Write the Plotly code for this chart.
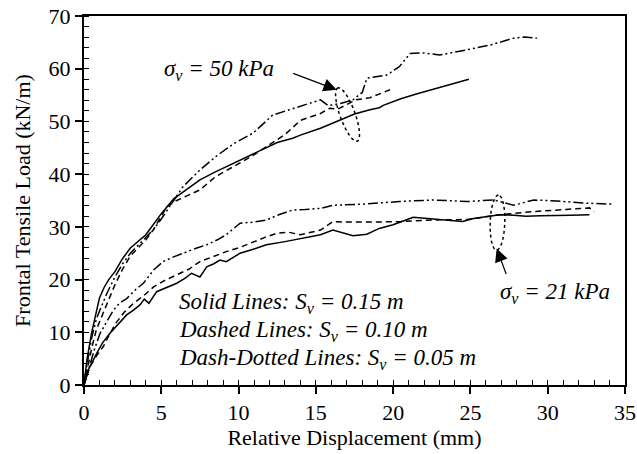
import numpy as np
import plotly.graph_objects as go

# ---- measured load-displacement curves -------------------------------------
# sigma_v = 50 kPa
x50_s15 = [0, 0.2, 0.5, 0.8, 1.0, 1.3, 1.6, 2.0, 2.5, 3.0, 3.5, 4.0, 4.5, 5.0, 5.8, 6.5, 7.5,
           8.4, 9.7, 10.5, 11.5, 12.5, 13.5, 14.0, 15.3, 16.6, 17.5, 18.5, 19.1, 19.4, 20.5,
           21.5, 22.5, 23.5, 24.2, 24.9]
y50_s15 = [0, 5, 10, 14, 16.5, 18.5, 20, 21.5, 24, 26, 27.3, 28.5, 30.5, 32.5, 35.3, 36.8, 38.9,
           40.3, 42.1, 43.3, 44.6, 46.0, 46.8, 47.4, 48.7, 50.3, 51.4, 52.2, 52.6, 53.1, 54.3,
           55.2, 56.0, 56.8, 57.3, 58.0]

x50_s10 = [0, 0.2, 0.5, 0.8, 1.0, 1.5, 2.0, 2.5, 3.0, 3.5, 4.0, 4.5, 5.35, 6.0, 7.5, 8.5, 9.7,
           10.8, 11.8, 13.0, 14.0, 15.3, 15.9, 16.4, 17.0, 17.6, 18.5, 19.8]
y50_s10 = [0, 3, 7, 10.5, 12, 15.5, 19, 22, 24.5, 26, 27.5, 29.5, 33.8, 35, 37, 39.5, 41.4,
           43.3, 45.2, 47.5, 50.2, 51.5, 52.5, 52.3, 53.2, 54.1, 54.5, 56.0]

x50_s05 = [0, 0.2, 0.5, 0.8, 1.0, 1.5, 2.0, 2.5, 3.0, 3.5, 4.0, 4.5, 5.0, 6.4, 7.5, 8.6, 9.7,
           10.95, 12.2, 13.5, 14.0, 15.3, 15.8, 16.6, 17.4, 18.0, 18.3, 19.6, 20.4, 21.1, 22.0,
           23.0, 24.8, 26.3, 27.8, 28.5, 29.3]
y50_s05 = [0, 4, 9, 12.5, 14, 17.5, 20.5, 23, 25, 26.5, 28, 29.5, 31.5, 37.6, 40.8, 43.5, 45.8,
           47.8, 51.2, 52.4, 52.8, 54.1, 53.0, 53.4, 54.1, 55.5, 58.2, 58.8, 60.4, 62.9, 63.0,
           62.6, 63.6, 64.5, 65.8, 66.0, 65.8]

# sigma_v = 21 kPa
x21_s15 = [0, 0.3, 0.82, 1.2, 1.68, 2.2, 2.76, 3.2, 3.62, 3.9, 4.2, 4.7, 5.3, 6.0, 6.5, 6.96,
           7.5, 7.94, 8.4, 8.8, 9.2, 10.1, 11.0, 11.8, 13.0, 14.0, 15.3, 16.1, 16.8, 17.4, 18.3,
           19.1, 20.0, 20.9, 21.3, 22.6, 23.5, 24.5, 25.2, 26.0, 26.9, 27.8, 28.6, 29.5, 30.4,
           31.5, 32.7]
y21_s15 = [0, 3, 6, 8, 9.8, 11.5, 13.3, 14.2, 15.2, 16.3, 15.5, 17.7, 18.5, 19.3, 20.2, 21.2,
           20.5, 22.4, 23.0, 23.7, 23.4, 25.0, 25.8, 26.6, 27.2, 27.8, 28.5, 29.4, 28.8, 28.3, 28.6,
           29.7, 30.4, 31.3, 31.8, 31.5, 31.3, 31.0, 31.6, 31.9, 32.3, 32.2, 32.0, 32.1, 32.1,
           32.2, 32.3]

x21_s10 = [0, 0.39, 0.8, 1.25, 1.6, 2.05, 2.6, 3.2, 3.8, 4.5, 5.2, 6.0, 6.8, 7.5, 8.3, 9.2,
           10.0, 10.95, 11.7, 12.5, 13.2, 14.0, 15.3, 16.1, 17.0, 18.5, 20.5, 22.6, 24.8, 26.9,
           29.1, 31.2, 32.7, 33.0]
y21_s10 = [0, 3.5, 5.5, 7.3, 9.3, 11.7, 13.8, 15.5, 16.8, 18.6, 19.8, 20.9, 22.0, 23.4, 24.3,
           25.3, 26.0, 27.2, 28.0, 28.8, 29.0, 28.5, 29.4, 31.0, 30.9, 30.9, 31.0, 31.3, 31.4,
           32.3, 32.9, 33.3, 33.6, 32.9]

x21_s05 = [0, 0.4, 0.7, 1.04, 1.5, 1.9, 2.3, 2.76, 3.3, 3.84, 4.5, 5.1, 5.8, 6.64, 7.3, 7.94,
           8.6, 9.2, 10.1, 11.0, 11.8, 12.6, 13.5, 14.3, 15.3, 16.1, 18.0, 20.4, 22.6, 24.8,
           26.5, 27.8, 29.1, 30.6, 32.5, 34.3]
y21_s05 = [0, 4, 7, 9.8, 12.3, 14.2, 15.5, 16.4, 18.0, 19.3, 21.8, 23.4, 24.3, 25.3, 26.0, 26.6,
           27.5, 28.5, 30.7, 30.9, 31.3, 32.3, 33.2, 33.3, 33.5, 34.1, 34.3, 34.8, 35.1, 34.8,
           35.1, 34.1, 35.1, 34.9, 34.5, 34.3]

x_ticks = [0, 5, 10, 15, 20, 25, 30, 35]
y_ticks = [0, 10, 20, 30, 40, 50, 60, 70]

FONT = "Liberation Serif"
SOLID = "solid"
DASHED = "6px,4px"
DASHDOT = "10px,3px,2px,3px,2px,3px"

fig = go.Figure()
series = [
    (x50_s15, y50_s15, SOLID), (x50_s10, y50_s10, DASHED), (x50_s05, y50_s05, DASHDOT),
    (x21_s15, y21_s15, SOLID), (x21_s10, y21_s10, DASHED), (x21_s05, y21_s05, DASHDOT),
]
for xs, ys, dash in series:
    fig.add_trace(go.Scatter(x=xs, y=ys, mode="lines", showlegend=False,
                             line=dict(color="black", width=1.5, dash=dash)))

# plot area geometry (pixels) used to draw round-looking ellipses in data space
W, H = 637, 454
ML, MR, MT, MB = 84, 12, 16, 69
px_per_x = (W - ML - MR) / 35.0
px_per_y = (H - MT - MB) / 70.0


def ellipse_path(cx, cy, a_px, b_px, tilt_deg, n=60):
    t = np.linspace(0, 2 * np.pi, n)
    th = np.deg2rad(tilt_deg)
    u = a_px * np.cos(t)
    v = b_px * np.sin(t)
    dx = u * np.cos(th) - v * np.sin(th)
    dy = u * np.sin(th) + v * np.cos(th)
    xs = cx + dx / px_per_x
    ys = cy + dy / px_per_y
    pts = [f"{x:.4f},{y:.4f}" for x, y in zip(xs, ys)]
    return "M" + " L".join(pts) + " Z"


fig.add_shape(type="path", path=ellipse_path(17.05, 51.3, 28.3, 7.5, 110),
              line=dict(color="black", width=1.5, dash="dot"))
fig.add_shape(type="path", path=ellipse_path(26.75, 30.8, 27.5, 7.3, 88),
              line=dict(color="black", width=1.5, dash="dot"))

note_font = dict(family=FONT, size=23, color="black")
fig.add_annotation(x=8.75, y=59.8, text="<i>σ<sub>v</sub> = 50 kPa</i>", showarrow=False,
                   font=note_font)
fig.add_annotation(x=30.47, y=17.4, text="<i>σ<sub>v</sub> = 21 kPa</i>", showarrow=False,
                   font=note_font)
fig.add_annotation(x=16.35, y=56.0, ax=-45, ay=-17, text="", showarrow=True,
                   arrowhead=2, arrowsize=2.2, arrowwidth=1.2, arrowcolor="black")
fig.add_annotation(x=26.7, y=25.9, ax=10, ay=27, text="", showarrow=True,
                   arrowhead=2, arrowsize=2.2, arrowwidth=1.2, arrowcolor="black")

legend_lines = [
    ("Solid Lines", "0.15", 15.6),
    ("Dashed Lines", "0.10", 10.3),
    ("Dash-Dotted Lines", "0.05", 5.0),
]
for name, sv, yy in legend_lines:
    fig.add_annotation(x=6.0, y=yy, xanchor="left", showarrow=False, font=note_font,
                       text=f"<i>{name}: S<sub>v</sub> = {sv} m</i>")

tick_font = dict(family=FONT, size=22, color="black")
xaxis = dict(
    range=[0, 35], tickmode="array", tickvals=x_ticks, ticktext=[str(v) for v in x_ticks],
    showline=True, linecolor="black", linewidth=2, mirror=True, automargin=False,
    ticks="outside", ticklen=7, tickwidth=1.5, tickcolor="black",
    showgrid=False, zeroline=False, tickfont=tick_font,
    title=dict(text="Relative Displacement (mm)", font=tick_font, standoff=4),
    minor=dict(ticks="inside", dtick=1, ticklen=5, tickwidth=1.2, tickcolor="black"),
)
yaxis = dict(
    range=[0, 70], tickmode="array", tickvals=y_ticks, ticktext=[str(v) for v in y_ticks],
    showline=True, linecolor="black", linewidth=2, mirror=True, automargin=False,
    ticks="outside", ticklen=7, tickwidth=1.5, tickcolor="black",
    showgrid=False, zeroline=False, tickfont=tick_font,
    title=dict(text="Frontal Tensile Load (kN/m)", font=tick_font, standoff=12),
    minor=dict(ticks="inside", dtick=2, ticklen=5, tickwidth=1.2, tickcolor="black"),
)

fig.update_layout(width=W, height=H, margin=dict(l=ML, r=MR, t=MT, b=MB),
                  font=dict(family=FONT, size=22, color="black"),
                  xaxis=xaxis, yaxis=yaxis,
                  plot_bgcolor="white", paper_bgcolor="white")

fig.write_html("out.html")
